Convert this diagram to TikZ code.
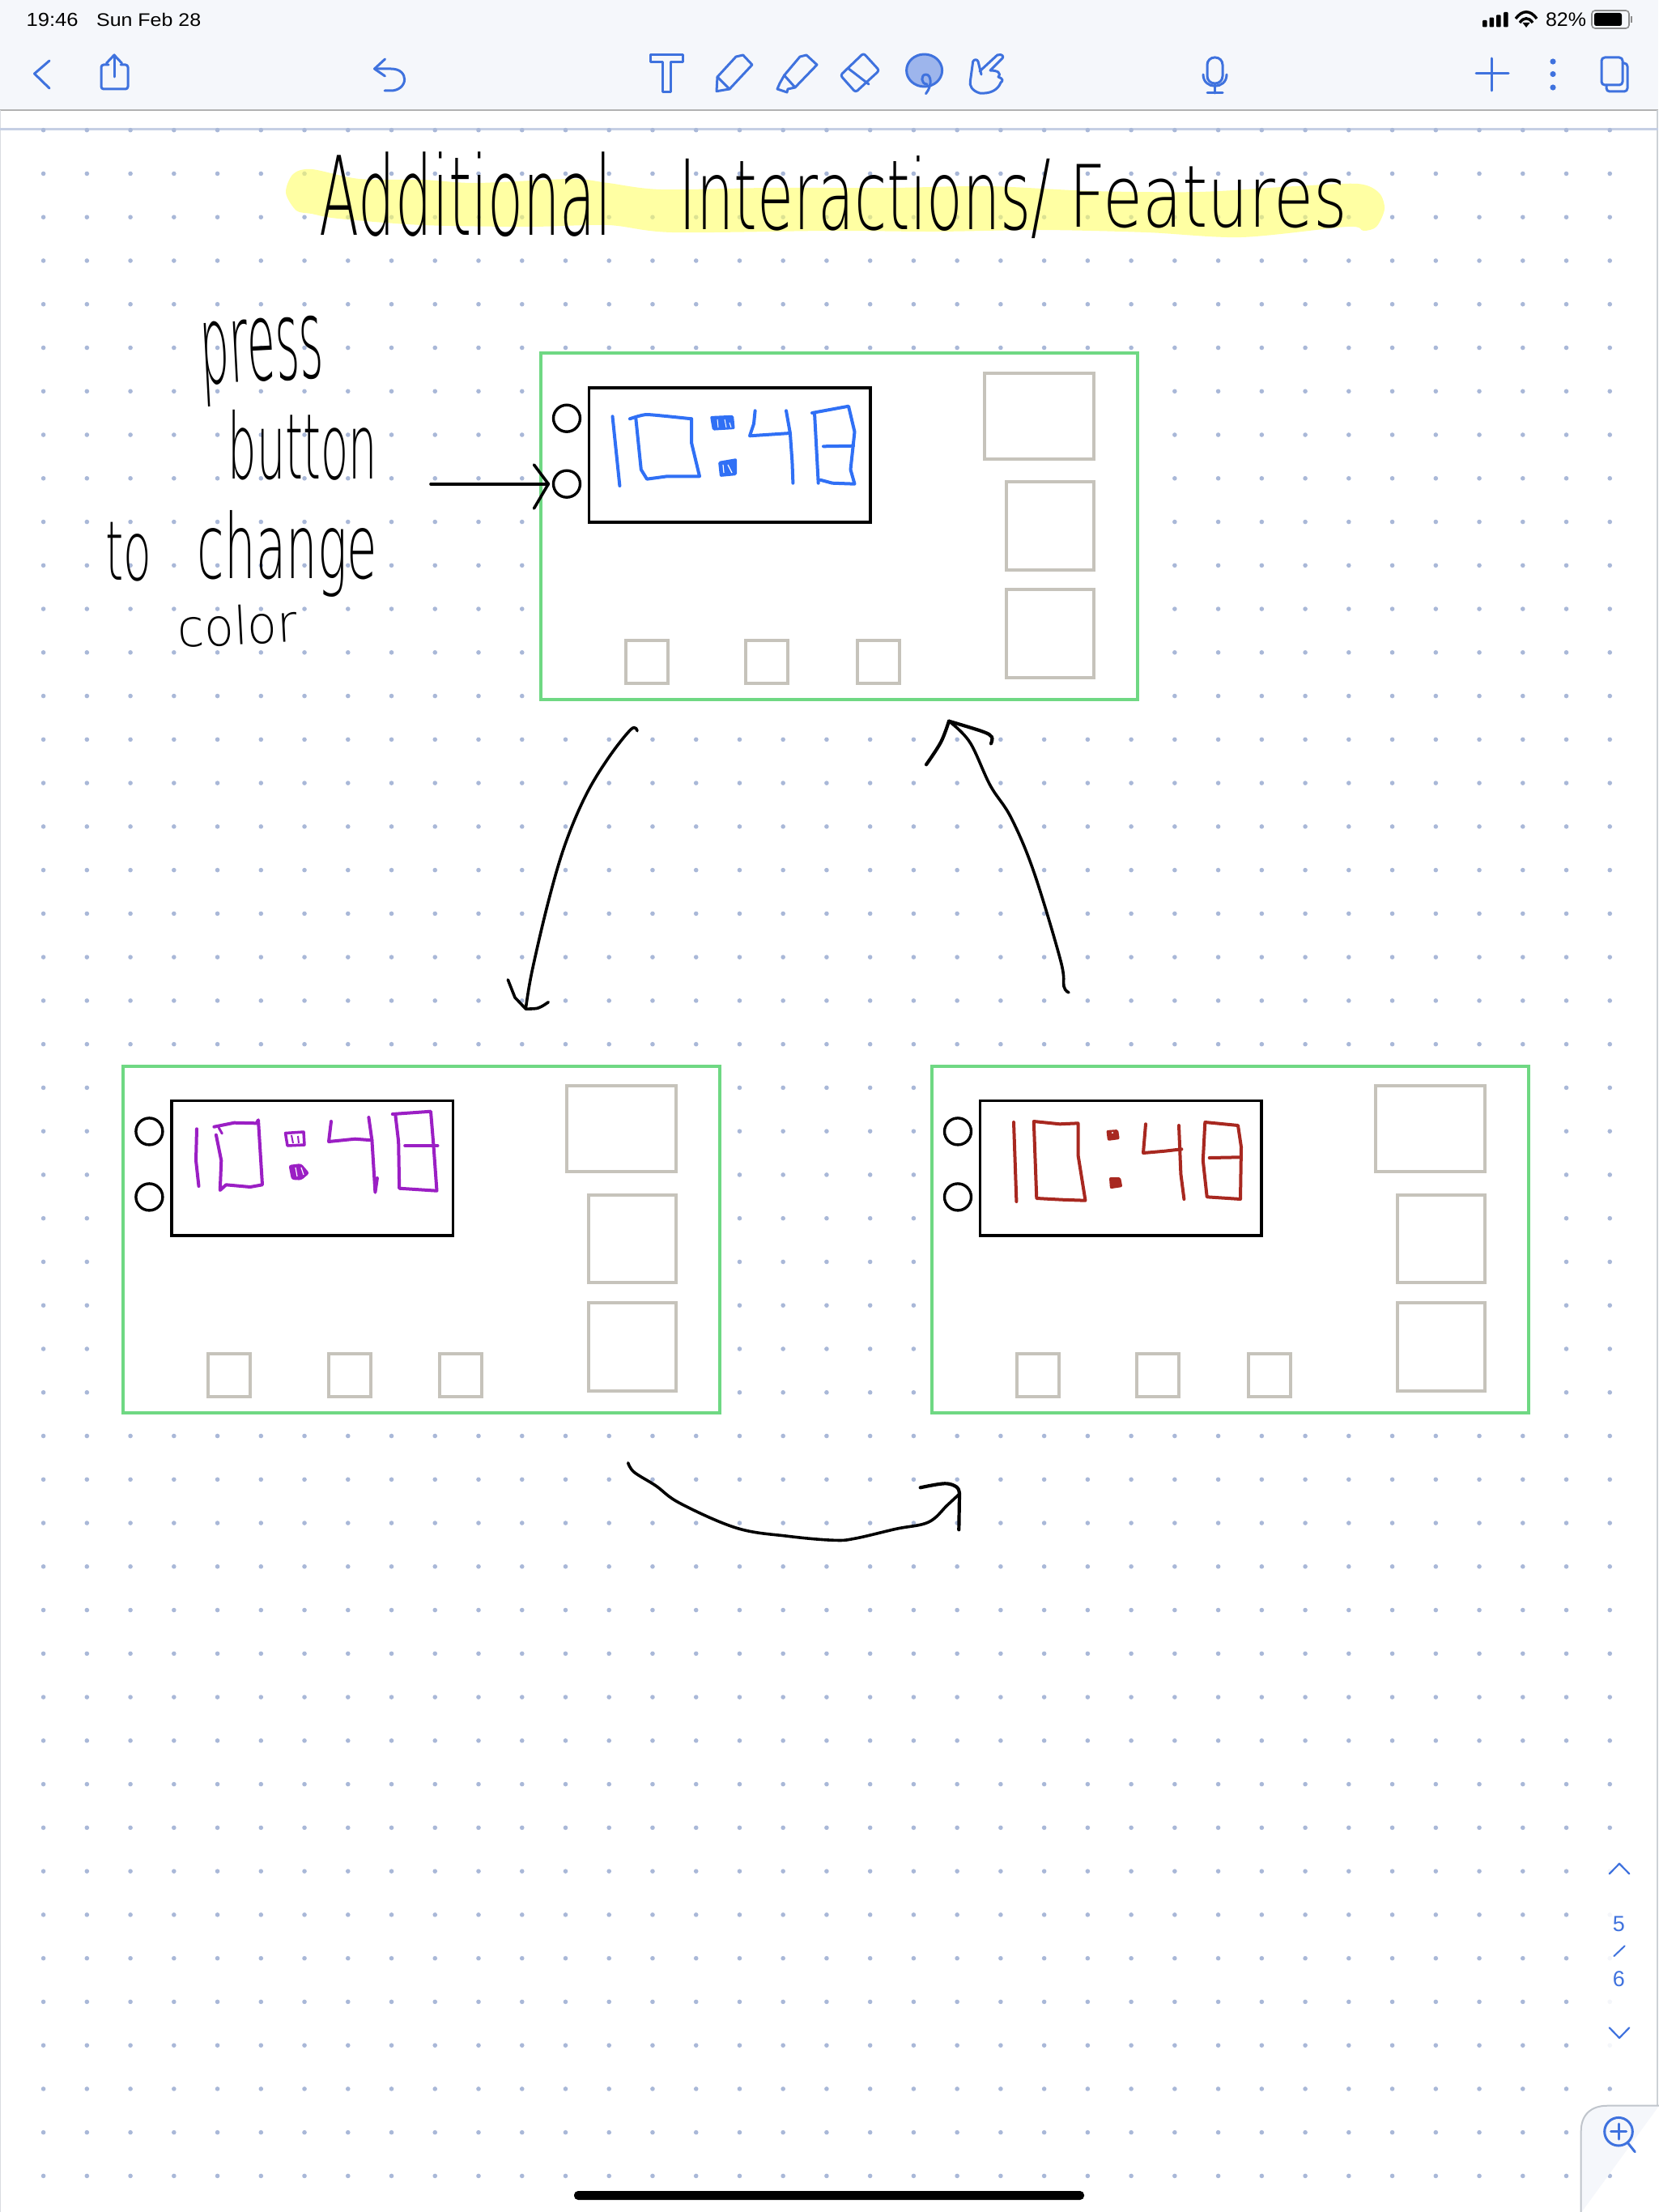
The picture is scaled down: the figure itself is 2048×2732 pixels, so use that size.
\documentclass[tikz,border=0pt]{standalone}
\usepackage{graphicx}
\usepackage{fontspec}
\setmainfont{Liberation Sans}
\newfontfamily\handfont{DejaVu Sans ExtraLight}
\definecolor{barbg}{HTML}{F5F7FB}
\definecolor{uiblue}{HTML}{3F72DE}
\definecolor{lassofill}{HTML}{9DB5EC}
\definecolor{dotc}{HTML}{A9B8D8}
\definecolor{ruleblue}{HTML}{C5CFE4}
\definecolor{framegreen}{HTML}{6FD883}
\definecolor{greybox}{HTML}{C6C3BB}
\definecolor{edgegrey}{HTML}{C0C5CC}
\definecolor{penblue}{HTML}{3070F5}
\definecolor{penpurple}{HTML}{9B1FC4}
\definecolor{penred}{HTML}{A82820}
\definecolor{hiyellow}{HTML}{FFFF66}
\tikzset{
  x=1pt,y=-1pt,
  ui/.style={draw=uiblue,line width=3pt,line join=round,line cap=round},
  inkline/.style={draw=black,line width=3.6pt,line join=round,line cap=round},
  pen/.style={draw=#1,line width=4pt,line join=round,line cap=round},
  screenframe/.style={draw=framegreen,fill=white,line width=4pt,minimum width=737pt,minimum height=428pt,inner sep=0pt},
  displaybox/.style={draw=black,line width=3.6pt,minimum width=347.4pt,minimum height=166.3pt,inner sep=0pt},
  greysq/.style={draw=greybox,line width=4pt,inner sep=0pt},
  roundbtn/.style={draw=black,line width=3.4pt,circle,minimum size=33pt,inner sep=0pt},
}
% name, cx, cy, w, h, rotation, content
\newcommand{\fittext}[7]{\node[inner sep=0pt,rotate=#6] (#1) at (#2,#3) {\resizebox*{#4pt}{#5pt}{#7}};}
\newcommand{\device}[3]{%
\begin{scope}[shift={(#2,#3)}]
  \node[screenframe] (#1-frame) at (1036.5,650) {};
  \node[displaybox] (#1-display) at (901.3,561.85) {};
  \node[roundbtn] (#1-btnA) at (700,516.7) {};
  \node[roundbtn] (#1-btnB) at (700,597.7) {};
  \node[greysq,minimum width=134.8pt,minimum height=106pt] (#1-bigA) at (1283.1,513.7) {};
  \node[greysq,minimum width=107.5pt,minimum height=108.7pt] (#1-bigB) at (1296.75,649.35) {};
  \node[greysq,minimum width=107.5pt,minimum height=108.7pt] (#1-bigC) at (1296.75,782.65) {};
  \node[greysq,minimum width=52pt,minimum height=53pt] (#1-smA) at (799,817.8) {};
  \node[greysq,minimum width=52pt,minimum height=53pt] (#1-smB) at (947.2,817.8) {};
  \node[greysq,minimum width=52pt,minimum height=53pt] (#1-smC) at (1085,817.8) {};
\end{scope}}
\begin{document}
\begin{tikzpicture}
\useasboundingbox (0,0) rectangle (2048,2732);
\fill[white] (0,0) rectangle (2048,2732);
% top bar
\fill[barbg] (0,0) rectangle (2048,136);
\draw[draw=black!30,line width=1.5pt] (0,136) -- (2048,136);
\draw[edgegrey!60,line width=1.5pt] (0.5,136) -- (0.5,2732);
\draw[edgegrey!80,line width=2pt] (2047,136) -- (2047,2601);
\draw[ruleblue,line width=3pt] (0,159.5) -- (2048,159.5);
% dot grid
\foreach \i in {0,...,36}{\foreach \j in {0,...,47}{
  \fill[dotc] ({53.6+53.74*\i},{160.7+53.76*\j}) circle[radius=2.8pt];}}
\fill[white,opacity=.88] (1965,2290) rectangle (2035,2540);
% highlight
\fill[hiyellow,opacity=.6] plot[smooth cycle,tension=.5] coordinates {
 (353,238) (362,215) (385,209) (444,221) (522,222) (588,226) (705,221) (751,226) (816,234)
 (950,232) (1100,232) (1220,230) (1350,236) (1481,237) (1600,230) (1677,227) (1703,238) (1710,258)
 (1700,280) (1684,285) (1664,280) (1533,293) (1416,287) (1285,284) (1155,286) (1024,285) (830,287)
 (751,278) (653,280) (522,278) (418,270) (385,264) (366,260)};
% status bar
\fittext{time}{64.7}{24}{64}{16.5}{0}{19:46}
\fittext{date}{183.7}{24}{129}{16.5}{0}{Sun Feb 28}
\fittext{batt}{1934}{24}{50}{17}{0}{82\%}
\foreach \x/\t in {1831/25,1839.5/21.7,1848/18.3,1857/15}{\fill[black,rounded corners=1pt] (\x,33.5) rectangle ({\x+5.5},\t);}
\draw[black,line width=3.4pt] (1872,23) .. controls (1880,12) and (1890,12) .. (1898,23);
\draw[black,line width=3.4pt] (1877,28) .. controls (1882,21) and (1888,21) .. (1893,28);
\fill[black] (1880.5,28) -- (1889.5,28) -- (1885,34) -- cycle;
\draw[black!45,line width=1.6pt,rounded corners=4pt] (1966,13) rectangle (2012,35);
\fill[black,rounded corners=2.5pt] (1969,16) rectangle (2003,32);
\fill[black!45] (2014,20) rectangle (2016,28);
% toolbar icons
\draw[ui] (61,75) -- (42.5,91) -- (61,109);
\draw[ui,rounded corners=3pt] (134,80) -- (125,80) -- (125,110) -- (158,110) -- (158,80) -- (149,80);
\draw[ui] (141,95) -- (141,68); \draw[ui] (131.5,78) -- (141,68) -- (150.5,78);
\draw[ui] (475.5,73) -- (462.5,85) -- (475.5,94);
\draw[ui] (463,85) -- (483,85) .. controls (495,85) and (499.6,92) .. (499.6,98) .. controls (499.6,106) and (492,112) .. (483,112) -- (475,112);
\draw[ui] (803,68) -- (843,68) -- (843,77) -- (828,77) -- (828,114) -- (818,114) -- (818,77) -- (803,77) -- cycle;
\draw[ui] (917.7,68) -- (929,80) -- (901,110) -- (885,112.7) -- (886,95) -- (909,70) -- cycle; \draw[ui] (886,95) -- (901,110);
\draw[ui] (996,68) -- (1009,80) -- (982,108) -- (973,110) -- (972,114) -- (960,110) -- (963,103) -- (968.6,93) -- (988,70) -- cycle; \draw[ui] (968.6,93) -- (982,108);
\draw[ui,rounded corners=3pt] (1066.5,65.7) -- (1086,87) -- (1056.7,114) -- (1038,93) -- cycle; \draw[ui] (1047,84) -- (1073,104);
\draw[ui,fill=lassofill] (1141.6,87) ellipse[x radius=22pt,y radius=20pt];
\draw[ui] (1143.5,115.7) .. controls (1152,105) and (1150,92) .. (1143.5,92) .. controls (1137,92) and (1137,104) .. (1145,104);
\draw[ui] (1210,88) -- (1231.7,68) .. controls (1238,66) and (1240,70) .. (1238,72) -- (1223,87) .. controls (1232,87) and (1237,90) .. (1233,95) .. controls (1239,97) and (1239,100) .. (1236,102) .. controls (1232,112) and (1222,116) .. (1210,115) .. controls (1200,112) and (1197,105) .. (1198.4,100) -- (1201.7,76) .. controls (1203,73) and (1207,73) .. (1208,76) -- (1212,92);
\node[draw=uiblue,line width=3pt,rounded corners=9pt,minimum width=19pt,minimum height=32pt,inner sep=0pt] (mic) at (1500.5,87) {};
\draw[ui] (1486,92) .. controls (1486,111) and (1515,111) .. (1515,92);
\draw[ui] (1500.5,104) -- (1500.5,115); \draw[ui] (1491,115) -- (1510,115);
\draw[ui] (1823,91) -- (1863,91); \draw[ui] (1842.5,72) -- (1842.5,112);
\foreach \y in {76,91.5,108}{\fill[uiblue] (1918,\y) circle[radius=3.6pt];}
\draw[ui,rounded corners=4pt] (2004,78) -- (2010,78) -- (2010,113) -- (1984,113) -- (1984,105);
\draw[ui,rounded corners=4pt] (1978,71) rectangle (2004,105);
% title
\fittext{w1}{575.3}{240.5}{360.7}{105}{0}{\handfont Additional}
\fittext{w2}{1068.5}{244}{459}{102}{0}{\handfont Interactions/}
\fittext{w3}{1492.5}{242.5}{343}{79}{0}{\handfont Features}
% side note
\fittext{n1}{324}{446}{152}{105}{3}{\handfont press}
\fittext{n2}{374}{549.5}{184}{87}{0}{\handfont button}
\fittext{n3}{158.5}{681.5}{57}{73}{0}{\handfont to}
\fittext{n4}{355}{683.5}{222}{107}{0}{\handfont change}
\fittext{n5}{293}{772}{148}{50}{3}{\handfont color}
% screens
\device{top}{0}{0}
\device{lft}{-515.6}{880.7}
\device{rgt}{483}{880.7}
% blue digits
\draw[pen=penblue] (756.5,514.3) -- (765.4,600);
\draw[pen=penblue] plot[smooth,tension=.3] coordinates {(777.9,517.3) (799,512) (854,517.3)};
\draw[pen=penblue] (785.3,516.7) -- (791.8,580) -- (799,591.7) -- (824,588.3) -- (864,588.3) -- (854,546.7) -- (854,517.3);
\fill[penblue,rounded corners=2pt] (877,514) -- (906,512.7) -- (907.7,530) -- (880,531.7) -- cycle;
\draw[white,line width=1pt] (886,518) -- (887,528) (895,518) -- (897,528) (901,522) -- (903,528);
\fill[penblue,rounded corners=2pt] (887,570) -- (910,566) -- (910,587) -- (889,589) -- cycle;
\draw[white,line width=1.2pt] (893,574) -- (894,584) (899,574) -- (904,584);
\draw[pen=penblue] (932.6,507.3) -- (931,523.3) -- (926,538.3) -- (975.9,535);
\draw[pen=penblue] (971,507.3) -- (975.9,535) -- (978.4,570) -- (979.4,596.7);
\draw[pen=penblue] (1003,510) -- (1048,501.7) -- (1055.5,533.3) -- (1050.5,580) -- (1055.5,597.7) -- (1028,596.7) -- (1013,592.7);
\draw[pen=penblue] (1006,510) -- (1010.7,596.7);
\draw[pen=penblue] (1017,551.3) -- (1054,550.7);
% purple digits
\draw[pen=penpurple] (243,1394.3) -- (242,1433.3) -- (245.5,1465);
\draw[pen=penpurple] (264.4,1391.7) -- (289.3,1386.7) -- (316.6,1387.3) -- (319,1383.3) -- (324,1463.3) -- (309,1466) -- (279.3,1463.3) -- (271.8,1470) -- (273.3,1433.3) -- (266.9,1401.7);
\draw[pen=penpurple,line width=3pt] (270.3,1393) -- (274.3,1400);
\draw[penpurple,line width=3.5pt,line join=round] (352.5,1399.5) -- (375,1398) -- (376,1414) -- (355,1415) -- cycle;
\draw[penpurple,line width=2pt] (360,1402) -- (362,1412) (368,1403) -- (369,1412);
\fill[penpurple,rounded corners=3pt] (356.4,1439) -- (372,1437) -- (382.3,1449) -- (372,1457.7) -- (360,1457) -- cycle;
\draw[white,line width=1.2pt] (365,1442) -- (367,1453) (372,1442) -- (375,1451);
\draw[pen=penpurple] (409,1385) -- (406,1410) -- (438.5,1406.7) -- (459.4,1408.3);
\draw[pen=penpurple] (455.4,1380) -- (459.4,1408.3) -- (463.4,1472.7) -- (465.9,1455);
\draw[pen=penpurple] (484.8,1376) -- (532,1372.7) -- (535.5,1415) -- (539.5,1470.7) -- (493.2,1467.7) -- (492.2,1410) -- (488.3,1376.7);
\draw[pen=penpurple] (500.2,1415) -- (540.5,1415);
% red digits
\draw[pen=penred] (1252,1386) -- (1255.4,1484);
\draw[pen=penred] (1276.8,1385) -- (1309,1388.3) -- (1331.5,1387.3) -- (1331.5,1426.7) -- (1340.5,1482.7) -- (1311.6,1481.7) -- (1280.3,1480) -- cycle;
\fill[penred,rounded corners=2pt] (1366.4,1396) -- (1381,1395) -- (1382.8,1407) -- (1368,1409) -- cycle;
\fill[white] (1374,1399) circle[radius=1.2pt];
\fill[penred,rounded corners=2pt] (1369.9,1454) -- (1384,1454) -- (1386.3,1466) -- (1371,1468.3) -- cycle;
\draw[pen=penred] (1415,1388.3) -- (1412,1424) -- (1438.5,1421.7) -- (1459.4,1419.3);
\draw[pen=penred] (1456,1390) -- (1458.4,1450) -- (1462.4,1481);
\draw[pen=penred] (1488.3,1386) -- (1529,1390) -- (1533,1416.7) -- (1532,1481) -- (1490.7,1478.3) -- (1485.8,1433.3) -- cycle;
\draw[pen=penred] (1493.7,1430) -- (1530.5,1429.3);
% connectors
\coordinate (noteArrow) at (532,597.7);
\coordinate (noteHeadA) at (659.5,574);
\coordinate (noteHeadB) at (659.5,628);
\coordinate (noteTip) at (677.3,597.7);
\draw[inkline] (noteArrow) -- (noteTip);
\draw[inkline] (noteHeadA) -- (noteTip) -- (noteHeadB);
\coordinate (aStart) at (787,902.7);
\coordinate (aEnd) at (649.3,1246);
\draw[inkline] plot[smooth,tension=.6] coordinates {(aStart) (779.4,900.7) (751,936.7) (723,983.3) (697.8,1043.3) (677.3,1113.3) (657,1200) (aEnd)};
\draw[inkline] (627.3,1210) -- (636,1232) -- (aEnd);
\draw[inkline] plot[smooth,tension=.6] coordinates {(aEnd) (664.6,1245) (677.3,1237.7)};
\coordinate (bStart) at (1320,1225.7);
\coordinate (bEnd) at (1172,890.7);
\draw[inkline] plot[smooth,tension=.6] coordinates {(bStart) (1314,1218.3) (1310,1186.7) (1276.8,1076.7) (1248.8,1010) (1223,970) (1197.8,916.7) (bEnd)};
\draw[inkline,line width=4.2pt] plot[smooth,tension=.6] coordinates {(1144,944.3) (1162,916.7) (bEnd)};
\draw[inkline,line width=4.2pt] plot[smooth,tension=.6] coordinates {(bEnd) (1213,903.3) (1224.8,910) (1224,918.3)};
\coordinate (cStart) at (775.7,1806.7);
\coordinate (cEnd) at (1185,1845);
\draw[inkline] plot[smooth,tension=.6] coordinates {(cStart) (783.3,1818.3) (810,1835) (840,1856.7) (910,1887.3) (973,1897.3) (1030,1902.3) (1056.7,1900) (1106.7,1888.3) (1146.7,1880) (1170,1859) (cEnd)};
\draw[inkline,line width=4.2pt] plot[smooth,tension=.6] coordinates {(1136.7,1837.3) (1166.7,1832.3) (1181.7,1836.7) (cEnd)};
\draw[inkline,line width=4.2pt] (cEnd) -- (1184.3,1889.3);
% page scroller
\draw[ui,line width=2.2pt] (1987.7,2314.3) -- (2000,2301.7) -- (2012.3,2314.3);
\node[text=uiblue,font=\fontsize{27}{27}\selectfont,inner sep=0pt] (pg5) at (1999.3,2376.7) {5};
\draw[ui,line width=2pt] (1993.3,2416) -- (2006.7,2403.3);
\node[text=uiblue,font=\fontsize{27}{27}\selectfont,inner sep=0pt] (pg6) at (1999.3,2444) {6};
\draw[ui,line width=2.2pt] (1987.7,2504.3) -- (2000,2517) -- (2012.3,2504.3);
% zoom panel
\path[fill=barbg,draw=edgegrey,line width=2pt] (1952.7,2733) -- (1952.7,2632) .. controls (1952.7,2612) and (1965,2600.7) .. (1985,2600.7) -- (2049,2600.7);
\draw[ui] (1999,2632.7) circle[radius=17.3pt];
\draw[ui] (2010.5,2646.7) -- (2019.3,2657.7);
\draw[ui] (1989.5,2632.7) -- (2008.5,2632.7); \draw[ui] (1999,2623.2) -- (1999,2642.2);
% home bar
\fill[black,rounded corners=5pt] (709,2706) rectangle (1339,2717);
\end{tikzpicture}
\end{document}
